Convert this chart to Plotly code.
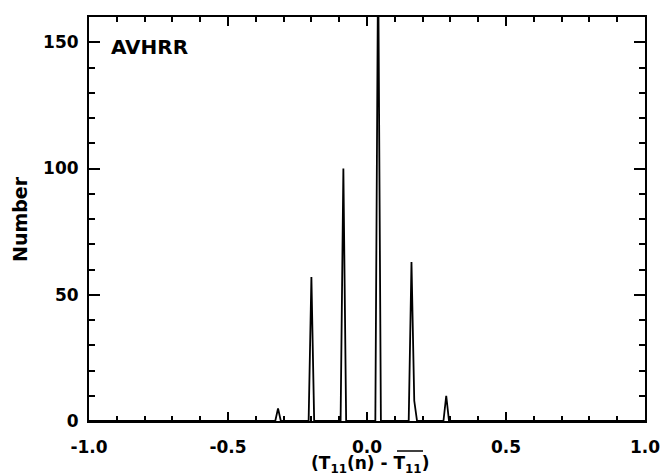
import plotly.graph_objects as go

# Histogram of (T11(n) - mean T11) for AVHRR
x_vals = [-1.0, -0.33, -0.32, -0.31, -0.21, -0.20, -0.19, -0.095, -0.085, -0.075,
          0.03, 0.04, 0.05, 0.15, 0.16, 0.17, 0.18, 0.275, 0.285, 0.295, 1.0]
counts = [0, 0, 5, 0, 0, 57, 0, 0, 100, 0,
          0, 185, 0, 0, 63, 8, 0, 0, 10, 0, 0]

x_ticks = [-1.0, -0.5, 0.0, 0.5, 1.0]
x_tick_labels = ["-1.0", "-0.5", "0.0", "0.5", "1.0"]
y_ticks = [0, 50, 100, 150]
y_tick_labels = ["0", "50", "100", "150"]

FONT = "DejaVu Sans"
L, R, T, B = 89, 20, 17, 55
W, H = 665, 476
PW, PH = W - L - R, H - T - B


def px_x(p):
    return (p - L) / PW


def px_y(p):
    return (H - B - p) / PH


fig = go.Figure()
fig.add_trace(go.Scatter(x=x_vals, y=counts, mode="lines",
                         line=dict(color="black", width=1.8),
                         showlegend=False, hoverinfo="skip"))

fig.update_layout(
    width=W, height=H,
    margin=dict(l=L, r=R, t=T, b=B),
    paper_bgcolor="white", plot_bgcolor="white",
    font=dict(family=FONT, color="black", size=17, weight="bold"),
    annotations=[
        dict(text="AVHRR", xref="paper", yref="paper", x=px_x(109), y=px_y(47),
             xanchor="left", yanchor="middle", showarrow=False,
             font=dict(family=FONT, size=20, color="black", weight="bold")),
        dict(text="Number", xref="paper", yref="paper", x=px_x(20), y=0.5,
             xanchor="center", yanchor="middle", textangle=-90, showarrow=False,
             font=dict(family=FONT, size=19, color="black", weight="bold")),
        dict(text="(T<sub>11</sub>(n) - T<sub>11</sub>)", xref="paper", yref="paper",
             x=px_x(370), y=px_y(464),
             xanchor="center", yanchor="middle", showarrow=False,
             font=dict(family=FONT, size=17, color="black", weight="bold")),
    ],
    shapes=[
        # overline over the mean-temperature symbol in the axis title
        dict(type="line", xref="paper", yref="paper",
             x0=px_x(397), x1=px_x(423), y0=px_y(451), y1=px_y(451),
             line=dict(color="black", width=1.5)),
    ],
)

fig.update_xaxes(
    range=[-1.0, 1.0], tickvals=x_ticks, ticktext=x_tick_labels,
    ticks="inside", ticklen=9, tickwidth=1.5, tickcolor="black",
    minor=dict(dtick=0.1, tick0=-1.0, ticks="inside", ticklen=5, tickwidth=1.5, tickcolor="black"),
    showline=True, linecolor="black", linewidth=2, mirror="ticks",
    showgrid=False, zeroline=False, ticklabelstandoff=10, automargin=False,
    tickfont=dict(family=FONT, size=17, weight="bold"),
)
fig.update_yaxes(
    range=[0, 160], tickvals=y_ticks, ticktext=y_tick_labels,
    ticks="inside", ticklen=11, tickwidth=1.5, tickcolor="black",
    minor=dict(dtick=10, tick0=0, ticks="inside", ticklen=6, tickwidth=1.5, tickcolor="black"),
    showline=True, linecolor="black", linewidth=2, mirror="ticks",
    showgrid=False, zeroline=False, ticklabelstandoff=5, automargin=False,
    tickfont=dict(family=FONT, size=17, weight="bold"),
)

fig.write_html("out.html", config={"displayModeBar": False},
               post_script="document.body.style.margin='0';")
